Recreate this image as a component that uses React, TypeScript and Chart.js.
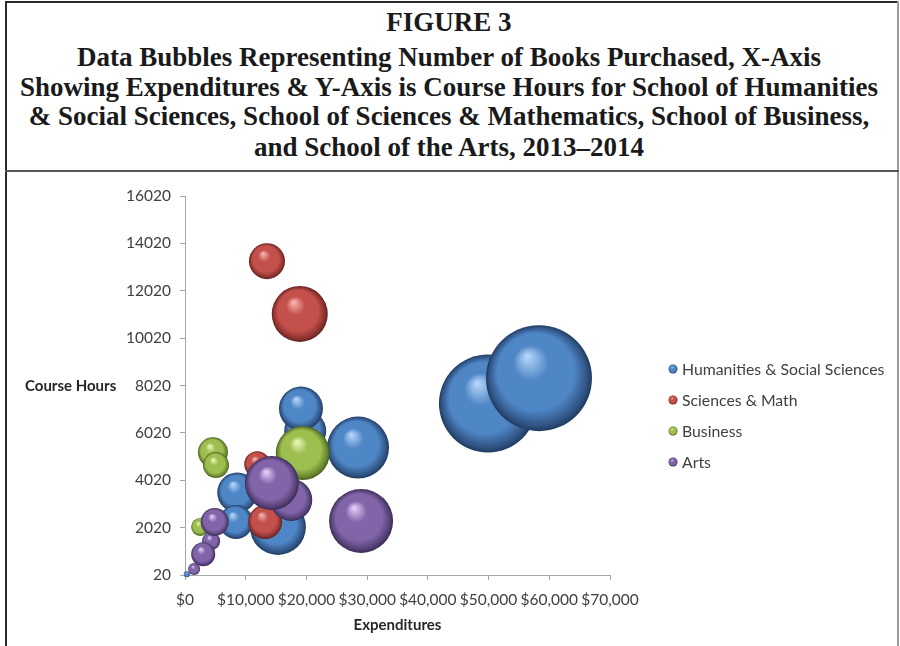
import React, { useEffect, useRef } from "react";
import { Chart, registerables } from "chart.js";

Chart.register(...registerables);

// Expenditures ($), course hours and bubble size (books purchased) per school
const humanitiesX = [300, 8600, 8400, 15300, 19800, 19100, 28500, 49900, 58300];
const humanitiesY = [50, 3500, 2260, 2050, 6100, 7050, 5400, 7260, 8330];
const humanitiesR = [3, 20, 17, 28, 21, 22, 31, 49, 53];

const sciencesX = [13500, 18900, 11900, 13200];
const sciencesY = [13270, 11040, 4700, 2260];
const sciencesR = [18, 28, 13, 17];

const businessX = [4600, 5100, 19400, 2500];
const businessY = [5200, 4660, 5170, 2050];
const businessR = [15, 13, 27, 9];

const artsX = [1500, 4300, 3000, 4900, 17500, 14300, 29000];
const artsY = [270, 1450, 900, 2260, 3190, 3900, 2300];
const artsR = [6, 9, 12, 14, 21, 27, 32];

const seriesNames = ["Humanities & Social Sciences", "Sciences & Math", "Business", "Arts"];

const yTickValues = [20, 2020, 4020, 6020, 8020, 10020, 12020, 14020, 16020];

const titleLines = [
  "FIGURE 3",
  "Data Bubbles Representing Number of Books Purchased, X-Axis",
  "Showing Expenditures & Y-Axis is Course Hours for School of Humanities",
  "& Social Sciences, School of Sciences & Mathematics, School of Business,",
  "and School of the Arts, 2013\u20132014",
];

type Shade = { light: string; mid: string; dark: string; edge: string };

const shades: Shade[] = [
  { light: "#b4d6fa", mid: "#4f86c6", dark: "#2f5282", edge: "#1f3a5e" },
  { light: "#f6b4b0", mid: "#c4504c", dark: "#86302d", edge: "#5e201f" },
  { light: "#eaf8b6", mid: "#9dbf50", dark: "#65822c", edge: "#46591f" },
  { light: "#e2d0f8", mid: "#8265a9", dark: "#523e72", edge: "#382a52" },
];

const FONT = "Lato, 'Open Sans', sans-serif";
const TEXT = "#404040";

function makePoints(xs: number[], ys: number[], rs: number[]) {
  return xs.map((x, i) => ({ x, y: ys[i], r: rs[i] }));
}

function sphereFill(
  g: CanvasRenderingContext2D,
  x: number,
  y: number,
  r: number,
  s: Shade
) {
  const grad = g.createRadialGradient(x - r * 0.22, y - r * 0.42, r * 0.02, x, y, r);
  grad.addColorStop(0, s.light);
  grad.addColorStop(0.32, s.mid);
  grad.addColorStop(0.72, s.mid);
  grad.addColorStop(0.93, s.dark);
  grad.addColorStop(1, s.edge);
  return grad;
}

function sphereScript(s: Shade) {
  return (ctx: any) => {
    const chart = ctx.chart;
    const raw = ctx.raw;
    if (!raw || !chart.chartArea || !chart.scales.x) return s.mid;
    const x = chart.scales.x.getPixelForValue(raw.x);
    const y = chart.scales.y.getPixelForValue(raw.y);
    return sphereFill(chart.ctx, x, y, raw.r, s);
  };
}

// Legend on the right and the horizontal "Course Hours" label
const sideTextPlugin = {
  id: "sideText",
  afterDraw(chart: any) {
    const g: CanvasRenderingContext2D = chart.ctx;
    const area = chart.chartArea;
    g.save();
    g.font = `bold 15px ${FONT}`;
    g.fillStyle = "#262626";
    g.textAlign = "left";
    g.textBaseline = "middle";
    g.fillText("Course Hours", 25, (area.top + area.bottom) / 2 + 1);

    g.font = `15.8px ${FONT}`;
    const mx = area.right + 63;
    chart.data.datasets.forEach((ds: any, i: number) => {
      const y = area.top + 173 + i * 31;
      const s = shades[i];
      g.beginPath();
      g.arc(mx, y, 4.5, 0, Math.PI * 2);
      g.fillStyle = sphereFill(g, mx, y, 4.5, s);
      g.fill();
      g.fillStyle = TEXT;
      g.fillText(ds.label, mx + 9, y + 1);
    });
    g.restore();
  },
};

export default function App() {
  const canvasRef = useRef<HTMLCanvasElement | null>(null);

  useEffect(() => {
    document.body.style.margin = "0";
    const canvas = canvasRef.current;
    if (!canvas) return;

    const seriesData = [
      makePoints(humanitiesX, humanitiesY, humanitiesR),
      makePoints(sciencesX, sciencesY, sciencesR),
      makePoints(businessX, businessY, businessR),
      makePoints(artsX, artsY, artsR),
    ];

    const chart = new Chart(canvas, {
      type: "bubble",
      data: {
        datasets: seriesData.map((data, i) => ({
          label: seriesNames[i],
          data,
          backgroundColor: sphereScript(shades[i]),
          borderWidth: 0,
          hoverBorderWidth: 0,
          clip: false,
          order: 4 - i,
        })),
      },
      options: {
        responsive: false,
        animation: false,
        events: [],
        layout: { autoPadding: false, padding: { left: 0, right: 290, top: 22, bottom: 0 } },
        plugins: {
          legend: { display: false },
          tooltip: { enabled: false },
        },
        scales: {
          x: {
            type: "linear",
            min: 0,
            max: 70000,
            ticks: {
              stepSize: 10000,
              color: TEXT,
              font: { family: FONT, size: 15.5 },
              padding: 11,
              maxRotation: 0,
              callback: (v: any) => "$" + Number(v).toLocaleString("en-US"),
            },
            grid: { drawOnChartArea: false, drawTicks: true, tickLength: 5, color: "#a6a6a6" },
            border: { display: true, color: "#a6a6a6", width: 1 },
            title: {
              display: true,
              text: "Expenditures",
              color: "#262626",
              font: { family: FONT, size: 15, weight: "bold" },
              padding: { top: 0, bottom: 12 },
            },
            afterFit: (s: any) => {
              s.height = 71;
            },
          },
          y: {
            type: "linear",
            min: 20,
            max: 16020,
            ticks: {
              color: TEXT,
              font: { family: FONT, size: 15.5 },
              padding: 9,
              callback: (v: any) => String(v),
            },
            afterBuildTicks: (s: any) => {
              s.ticks = yTickValues.map((value) => ({ value }));
            },
            grid: { drawOnChartArea: false, drawTicks: true, tickLength: 5, color: "#a6a6a6" },
            border: { display: true, color: "#a6a6a6", width: 1 },
            afterFit: (s: any) => {
              s.width = 185;
            },
          },
        },
      },
      plugins: [sideTextPlugin],
    } as any);

    return () => chart.destroy();
  }, []);

  const titleTops = [7, 42, 72, 101, 132];

  return (
    <div
      style={{
        position: "absolute",
        left: 0,
        top: 0,
        width: 900,
        height: 646,
        background: "#ffffff",
        overflow: "hidden",
      }}
    >
      <div
        style={{
          position: "absolute",
          left: 5,
          top: 1,
          width: 893,
          height: 2,
          background: "#2a2a2a",
        }}
      />
      <div
        style={{
          position: "absolute",
          left: 5,
          top: 1,
          width: 2,
          height: 700,
          background: "#2a2a2a",
        }}
      />
      <div
        style={{
          position: "absolute",
          left: 897,
          top: 1,
          width: 2,
          height: 700,
          background: "#9a9a9a",
        }}
      />
      <div
        style={{
          position: "absolute",
          left: 5,
          top: 170,
          width: 894,
          height: 2,
          background: "#555555",
        }}
      />
      {titleLines.map((line, i) => (
        <div
          key={i}
          style={{
            position: "absolute",
            left: 0,
            width: 898,
            top: titleTops[i],
            textAlign: "center",
            fontFamily: "'Liberation Serif', 'Times New Roman', serif",
            fontWeight: "bold",
            fontSize: 27,
            lineHeight: "30.5px",
            color: "#1a1a1a",
            whiteSpace: "nowrap",
          }}
        >
          {line}
        </div>
      ))}
      <canvas
        ref={canvasRef}
        width={900}
        height={472}
        style={{ position: "absolute", left: 0, top: 174, width: 900, height: 472 }}
      />
    </div>
  );
}
